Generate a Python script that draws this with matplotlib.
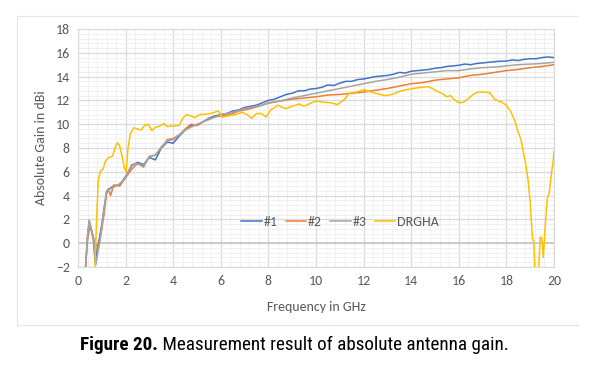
import numpy as np
import matplotlib
matplotlib.use("Agg")
import matplotlib.pyplot as plt
from matplotlib.lines import Line2D
from matplotlib.ticker import MultipleLocator

# -----------------
#   data
# -----------------
f1 = [0.3, 0.4, 0.47, 0.55, 0.65, 0.72, 0.8, 0.9, 1.0, 1.1, 1.2,
      1.25, 1.5, 1.75, 2.0, 2.25, 2.5, 2.75, 3.0, 3.25, 3.5, 3.75, 4.0,
      4.25, 4.5, 4.75, 5.0, 5.25, 5.5, 5.75, 6.0, 6.25, 6.5, 6.75, 7.0,
      7.25, 7.5, 7.75, 8.0, 8.25, 8.5, 8.75, 9.0, 9.25, 9.5, 9.75, 10.0,
      10.25, 10.5, 10.75, 11.0, 11.25, 11.5, 11.75, 12.0, 12.25, 12.5,
      12.75, 13.0, 13.25, 13.5, 13.75, 14.0, 14.25, 14.5, 14.75, 15.0,
      15.25, 15.5, 15.75, 16.0, 16.25, 16.5, 16.75, 17.0, 17.25, 17.5,
      17.75, 18.0, 18.25, 18.5, 18.75, 19.0, 19.25, 19.5, 19.75, 20.0]
g1 = [-2.5, 0.5, 1.9, 1.2, 0.2, -1.6, -0.5, 0.4, 1.6, 3.0, 4.3,
      4.5, 4.8, 4.9, 5.6, 6.5, 6.8, 6.6, 7.2, 7.0, 8.0, 8.5, 8.4,
      9.0, 9.5, 9.9, 9.9, 10.2, 10.5, 10.7, 10.8, 10.9, 11.1, 11.2, 11.4,
      11.5, 11.6, 11.8, 12.0, 12.1, 12.3, 12.5, 12.6, 12.8, 12.8, 12.95, 13.0,
      13.1, 13.3, 13.25, 13.45, 13.6, 13.6, 13.75, 13.8, 13.9, 14.0,
      14.05, 14.1, 14.2, 14.35, 14.3, 14.45, 14.5, 14.55, 14.6, 14.7,
      14.75, 14.85, 14.9, 14.95, 15.05, 15.0, 15.1, 15.15, 15.2, 15.25,
      15.3, 15.3, 15.4, 15.35, 15.45, 15.5, 15.5, 15.6, 15.65, 15.6]

f2 = [0.3, 0.4, 0.5, 0.6, 0.7, 0.8, 0.88, 1.0, 1.1, 1.2, 1.3, 1.37,
      1.5, 1.75, 2.0, 2.25, 2.5, 2.75, 3.0, 3.25, 3.5, 3.75, 4.0, 4.25,
      4.5, 4.75, 5.0, 5.25, 5.5, 5.75, 6.0, 6.25, 6.5, 6.75, 7.0, 7.25,
      7.5, 7.75, 8.0, 8.5, 9.0, 9.5, 10.0, 10.5, 11.0, 11.5, 12.0, 12.5,
      13.0, 13.5, 14.0, 14.5, 15.0, 15.5, 16.0, 16.5, 17.0, 17.5, 18.0,
      18.5, 19.0, 19.5, 20.0]
g2 = [-2.5, 0.3, 1.4, 0.9, 0.1, -0.3, -0.25, 1.2, 2.5, 4.2, 4.4, 4.0,
      4.9, 4.8, 5.5, 6.2, 6.7, 6.4, 7.3, 7.4, 8.0, 8.7, 8.8, 9.1,
      9.6, 10.0, 9.9, 10.2, 10.4, 10.6, 10.7, 10.75, 10.9, 11.1, 11.2, 11.3,
      11.45, 11.6, 11.8, 11.95, 12.1, 12.2, 12.3, 12.45, 12.5, 12.6, 12.7, 12.85,
      13.0, 13.2, 13.4, 13.5, 13.7, 13.8, 13.9, 14.1, 14.2, 14.35, 14.5,
      14.6, 14.75, 14.85, 15.0]

f3 = [0.3, 0.4, 0.47, 0.55, 0.65, 0.75, 0.85, 0.95, 1.05, 1.2,
      1.5, 1.75, 2.0, 2.25, 2.5, 2.75, 3.0, 3.25, 3.5, 3.75, 4.0, 4.5,
      5.0, 5.5, 6.0, 6.5, 7.0, 7.5, 8.0, 8.5, 9.0, 9.5, 10.0, 10.5, 11.0,
      11.5, 12.0, 12.5, 13.0, 13.5, 14.0, 14.5, 15.0, 15.5, 16.0, 16.5,
      17.0, 17.5, 18.0, 18.5, 19.0, 19.5, 20.0]
g3 = [-2.5, 0.7, 1.9, 1.3, 0.3, -1.8, -0.6, 0.6, 2.2, 4.4,
      4.7, 5.0, 5.5, 6.6, 6.7, 6.5, 7.3, 7.4, 8.1, 8.6, 8.7, 9.5,
      10.0, 10.4, 10.8, 11.0, 11.3, 11.5, 11.75, 11.95, 12.2, 12.4, 12.6, 12.8, 13.0,
      13.2, 13.4, 13.6, 13.75, 13.95, 14.2, 14.3, 14.4, 14.5, 14.5, 14.65,
      14.75, 14.8, 14.9, 15.0, 15.05, 15.1, 15.2]

f4 = [0.7, 0.78, 0.85, 0.95, 1.05, 1.15, 1.3, 1.45, 1.55, 1.65, 1.75,
      1.85, 1.95, 2.02, 2.1, 2.2, 2.35, 2.5, 2.65, 2.8, 2.95, 3.1, 3.25,
      3.4, 3.6, 3.75, 4.0, 4.25, 4.4, 4.55, 4.75, 4.9, 5.1, 5.4, 5.6, 5.8,
      5.9, 6.05, 6.3, 6.6, 6.9, 7.1, 7.3, 7.5, 7.7, 7.9, 8.1, 8.4, 8.7,
      9.0, 9.3, 9.5, 9.7, 10.0, 10.3, 10.6, 10.9, 11.2, 11.4, 11.7, 12.0,
      12.3, 12.6, 12.9, 13.2, 13.5, 13.8, 14.1, 14.4, 14.7, 14.9, 15.1,
      15.3, 15.5, 15.65, 15.8, 16.0, 16.2, 16.4, 16.6, 16.8, 17.1, 17.3,
      17.5, 17.8, 18.0, 18.2, 18.35, 18.5, 18.6, 18.7, 18.8, 18.9, 19.0,
      19.05, 19.1, 19.15, 19.2, 19.35, 19.42, 19.48, 19.55, 19.65, 19.72,
      19.8, 19.9, 19.95, 20.0]
g4 = [-2.5, 2.0, 5.3, 6.1, 6.2, 6.9, 7.2, 7.3, 8.0, 8.45, 8.2,
      7.3, 6.3, 6.0, 8.0, 9.2, 9.7, 9.6, 9.5, 9.9, 10.0, 9.45, 9.75,
      9.8, 10.05, 9.8, 9.85, 9.9, 10.5, 10.8, 10.7, 10.55, 10.8, 10.85, 10.9, 11.05,
      11.1, 10.6, 10.7, 10.8, 11.0, 10.8, 10.5, 10.9, 10.9, 10.6, 11.2, 11.6, 11.3,
      11.5, 11.7, 11.5, 11.7, 11.95, 11.85, 11.8, 11.65, 12.1, 12.6, 12.7, 12.9,
      12.7, 12.55, 12.4, 12.5, 12.75, 12.9, 13.0, 13.1, 13.15, 13.0, 12.75,
      12.6, 12.3, 12.4, 12.1, 11.8, 11.85, 12.15, 12.5, 12.7, 12.7, 12.65,
      12.1, 11.85, 11.6, 11.0, 10.3, 9.3, 8.8, 7.8, 6.8, 5.5, 3.5,
      1.8, 0.3, 0.2, -2.5, -2.5, 0.5, 0.5, -1.2, 2.0, 3.8,
      4.2, 6.0, 6.6, 7.7]

labels = ['#1', '#2', '#3', 'DRGHA']
colors = ['#4472C4', '#ED7D31', '#A5A5A5', '#FFC000']

xticks = np.arange(0, 21, 2)
yticks = np.arange(-2, 19, 2)

# -----------------
#   plot
# -----------------
plt.rcParams['font.family'] = ['Carlito', 'Open Sans', 'DejaVu Sans']
txt_col = '#595959'

fig = plt.figure(figsize=(6.03, 3.67), dpi=100)
ax = fig.add_axes([0.1294, 0.2725, 0.7893, 0.6485])

for fx, gy, lab, c in zip([f1, f2, f3, f4], [g1, g2, g3, g4], labels, colors):
    ax.plot(fx, gy, color=c, lw=1.1, label=lab)

ax.set_xlim(0, 20)
ax.set_ylim(-2, 18)
ax.set_xticks(xticks)
ax.set_yticks(yticks)
ax.xaxis.set_minor_locator(MultipleLocator(0.4))
ax.yaxis.set_minor_locator(MultipleLocator(0.4))
ax.grid(which='major', color='#d9d9d9', lw=0.9)
ax.grid(which='minor', color='#f0f0f0', lw=0.7)
ax.set_axisbelow(True)
ax.axhline(0, color='#c8c8c8', lw=1.3, zorder=1)
ax.tick_params(which='both', length=0, labelsize=10, labelcolor=txt_col, pad=6)
for s in ax.spines.values():
    s.set_color('#d9d9d9')
    s.set_linewidth(0.8)

ax.set_xlabel('Frequency in GHz', fontsize=10, color=txt_col, labelpad=10)
ax.set_ylabel('Absolute Gain in dBi', fontsize=10, color=txt_col, labelpad=6)

ax.legend(loc='center', bbox_to_anchor=(0.55, 0.19), ncol=4, frameon=False,
          fontsize=10, labelcolor=txt_col, handlelength=1.5, handletextpad=0.1,
          columnspacing=0.6)

# chart area border
bc = '#e6e6e6'
fig.add_artist(Line2D([0.0282, 0.9585], [0.9564, 0.9564], color=bc, lw=0.8))
fig.add_artist(Line2D([0.0282, 0.9585], [0.1144, 0.1144], color=bc, lw=0.8))
fig.add_artist(Line2D([0.0282, 0.0282], [0.1144, 0.9564], color=bc, lw=0.8))

# caption
cap_font = ['Roboto Condensed', 'Barlow Semi Condensed', 'Archivo Narrow', 'DejaVu Sans']
t1 = fig.text(0.1327, 0.046, 'Figure 20.', fontsize=13.8, fontweight='bold',
              family=cap_font, color='black', va='baseline')
ax.annotate(' Measurement result of absolute antenna gain.', xy=(1, 0),
            xycoords=t1, fontsize=13.8, family=cap_font, color='black',
            va='bottom', ha='left', annotation_clip=False)

fig.savefig('out.png', dpi=100)
